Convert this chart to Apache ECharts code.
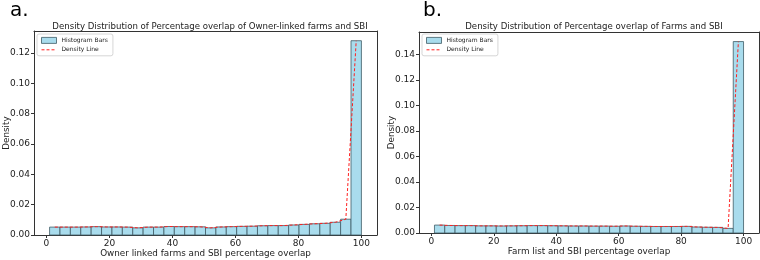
<!DOCTYPE html>
<html>
<head>
<meta charset="utf-8">
<script src="https://cdn.jsdelivr.net/npm/echarts@6/dist/echarts.min.js"></script>
<style>
html,body{margin:0;padding:0;background:#fff;}
#main{width:760px;height:260px;}
</style>
</head>
<body>
<div id="main"></div>
<script>
// 两个面板的直方图数据（30个分箱，1~100）
var binLo = 1, binHi = 100, binCount = 30;
var densityA = [0.0052,0.0052,0.0052,0.0053,0.0055,0.0053,0.0053,0.0052,0.0047,0.0052,
                0.0052,0.0056,0.0055,0.0055,0.0054,0.0047,0.0053,0.0055,0.0057,0.0058,
                0.0061,0.0062,0.0062,0.0066,0.0070,0.0074,0.0077,0.0084,0.0104,0.1280];
var densityB = [0.0062,0.0059,0.0058,0.0058,0.0056,0.0056,0.0055,0.0056,0.0057,0.0058,
                0.0058,0.0057,0.0056,0.0055,0.0055,0.0054,0.0054,0.0053,0.0055,0.0053,
                0.0052,0.0051,0.0051,0.0051,0.0052,0.0047,0.0045,0.0044,0.0036,0.1500];
var xTicks = [0,20,40,60,80,100];
var yTicksA = [0,0.02,0.04,0.06,0.08,0.10,0.12];
var yTicksB = [0,0.02,0.04,0.06,0.08,0.10,0.12,0.14];
var titleA = 'Density Distribution of Percentage overlap of Owner-linked farms and SBI';
var titleB = 'Density Distribution of Percentage overlap of Farms and SBI';
var xNameA = 'Owner linked farms and SBI percentage overlap';
var xNameB = 'Farm list and SBI percentage overlap';

var binW = (binHi - binLo) / binCount;
function histData(vals){
    return vals.map(function(v,i){ return [binLo + i*binW, binLo + (i+1)*binW, v]; });
}
function lineData(vals){
    return vals.map(function(v,i){ return [binLo + (i+0.5)*binW, v]; });
}
var font = 'DejaVu Sans';
var axisColor = '#333';
var barFill = '#a9dced', barEdge = '#3f5c66';

function xAxisCfg(idx, name){
    return {
        type:'value', gridIndex:idx, min:-3.95, max:104.95,
        name:name, nameLocation:'middle', nameGap:14, nameMoveOverlap:false,
        nameTextStyle:{fontFamily:font,fontSize:8.8,color:'#222'},
        axisLine:{show:true,onZero:false,lineStyle:{color:axisColor,width:1}},
        axisTick:{show:true,length:3,customValues:xTicks,lineStyle:{color:axisColor}},
        axisLabel:{customValues:xTicks,fontFamily:font,fontSize:9,color:'#222',margin:4},
        splitLine:{show:false}
    };
}
function xTopCfg(idx){
    return {type:'value',gridIndex:idx,position:'top',min:-3.95,max:104.95,
        axisLine:{show:true,onZero:false,lineStyle:{color:axisColor,width:1}},
        axisTick:{show:false},axisLabel:{show:false},splitLine:{show:false}};
}
function yAxisCfg(idx, max, ticks){
    return {
        type:'value', gridIndex:idx, min:0, max:max,
        name:'Density', nameLocation:'middle', nameGap:23, nameRotate:90, nameMoveOverlap:false,
        nameTextStyle:{fontFamily:font,fontSize:8.8,color:'#222'},
        axisLine:{show:true,onZero:false,lineStyle:{color:axisColor,width:1}},
        axisTick:{show:true,length:3,customValues:ticks,lineStyle:{color:axisColor}},
        axisLabel:{customValues:ticks,fontFamily:font,fontSize:9,color:'#222',margin:4,
            formatter:function(v){return v.toFixed(2);}},
        splitLine:{show:false}
    };
}
function yRightCfg(idx, max){
    return {type:'value',gridIndex:idx,position:'right',min:0,max:max,
        axisLine:{show:true,onZero:false,lineStyle:{color:axisColor,width:1}},
        axisTick:{show:false},axisLabel:{show:false},splitLine:{show:false}};
}
function histSeries(idx, vals){
    return {
        type:'custom', name:'Histogram Bars', xAxisIndex:idx*2, yAxisIndex:idx*2,
        data:histData(vals),
        renderItem:function(params, api){
            var p0 = api.coord([api.value(0), api.value(2)]);
            var p1 = api.coord([api.value(1), 0]);
            return {type:'rect',
                shape:{x:p0[0],y:p0[1],width:p1[0]-p0[0],height:p1[1]-p0[1]},
                style:{fill:barFill,stroke:barEdge,lineWidth:0.8}};
        },
        itemStyle:{color:barFill,borderColor:barEdge,borderWidth:0.8},
        z:2
    };
}
function lineSeries(idx, vals){
    return {
        type:'line', name:'Density Line', xAxisIndex:idx*2, yAxisIndex:idx*2,
        data:lineData(vals), symbol:'none', showSymbol:false,
        lineStyle:{color:'#ff2020',width:1,type:[3,2]},
        itemStyle:{color:'#ff2020'},
        z:3
    };
}
function legendCfg(left){
    return {
        left:left, top:34, orient:'vertical', itemGap:3, itemWidth:15, itemHeight:6,
        padding:[3,5,3,4], backgroundColor:'#fff', borderColor:'#ccc', borderWidth:0.8, borderRadius:2,
        textStyle:{fontFamily:font,fontSize:6,color:'#222'},
        data:[
            {name:'Histogram Bars',icon:'rect',itemStyle:{color:barFill,borderColor:barEdge,borderWidth:0.8}},
            {name:'Density Line',itemStyle:{opacity:0},lineStyle:{type:[3,2],color:'#ff2020',width:1}}
        ]
    };
}

var chart = echarts.init(document.getElementById('main'));
chart.setOption({
    animation:false,
    backgroundColor:'#fff',
    title:[
        {text:'a.',left:5,top:-4,textStyle:{fontFamily:font,fontSize:20,fontWeight:'normal',color:'#000'}},
        {text:'b.',left:418,top:-4,textStyle:{fontFamily:font,fontSize:20,fontWeight:'normal',color:'#000'}},
        {text:titleA,left:205,top:17,textAlign:'center',textStyle:{fontFamily:font,fontSize:8.6,fontWeight:'normal',color:'#222'}},
        {text:titleB,left:589,top:17,textAlign:'center',textStyle:{fontFamily:font,fontSize:8.6,fontWeight:'normal',color:'#222'}}
    ],
    legend:[legendCfg(37), legendCfg(422)],
    grid:[
        {left:34,top:31,right:383,bottom:25,outerBoundsMode:'none'},
        {left:419,top:32,right:1,bottom:27,outerBoundsMode:'none'}
    ],
    xAxis:[xAxisCfg(0,xNameA),xTopCfg(0),xAxisCfg(1,xNameB),xTopCfg(1)],
    yAxis:[yAxisCfg(0,0.1344,yTicksA),yRightCfg(0,0.1344),yAxisCfg(1,0.1575,yTicksB),yRightCfg(1,0.1575)],
    series:[
        histSeries(0,densityA), lineSeries(0,densityA),
        histSeries(1,densityB), lineSeries(1,densityB)
    ]
});
</script>
</body>
</html>
